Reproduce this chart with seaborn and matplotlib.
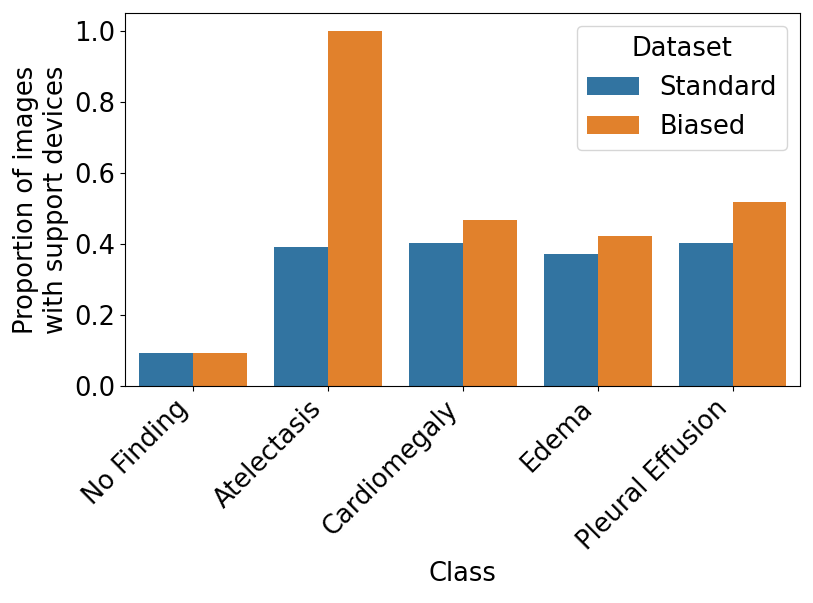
import matplotlib
matplotlib.use("Agg")
import matplotlib.pyplot as plt
import seaborn as sns
import pandas as pd

classes = ["No Finding", "Atelectasis", "Cardiomegaly", "Edema", "Pleural Effusion"]
standard = [0.093, 0.391, 0.403, 0.372, 0.404]
biased = [0.093, 1.0, 0.468, 0.422, 0.519]
datasets = ["Standard", "Biased"]

df = pd.DataFrame({
    "Class": classes * 2,
    "Proportion": standard + biased,
    "Dataset": ["Standard"] * len(classes) + ["Biased"] * len(classes),
})

plt.rcParams["font.family"] = ["DejaVu Sans"]
fs = 18.5
fig, ax = plt.subplots(figsize=(8.13, 6.03), dpi=100)
sns.barplot(data=df, x="Class", y="Proportion", hue="Dataset", hue_order=datasets, ax=ax)
ax.set_ylabel("Proportion of images\nwith support devices", fontsize=fs)
ax.set_xlabel("Class", fontsize=fs)
ax.tick_params(axis="y", labelsize=fs)
ax.tick_params(axis="x", labelsize=18.5)
plt.setp(ax.get_xticklabels(), rotation=45, ha="right")
leg = ax.legend(title="Dataset", fontsize=fs, title_fontsize=fs, loc="upper right")
fig.subplots_adjust(left=0.154, right=0.984, top=0.978, bottom=0.36)
fig.savefig("out.png", dpi=100)
